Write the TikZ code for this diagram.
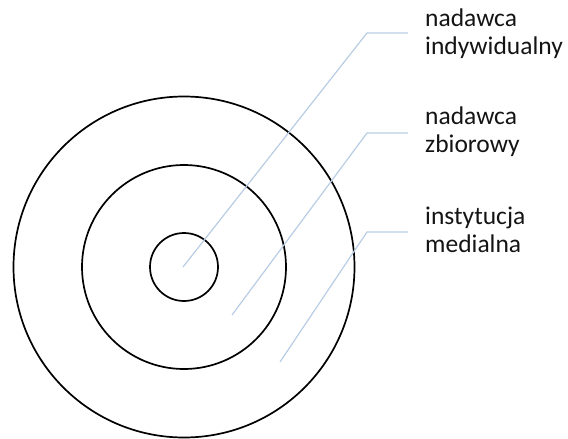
\documentclass[tikz,border=0pt]{standalone}
\usepackage{fontspec}
\setmainfont{Carlito}
\begin{document}
\begin{tikzpicture}[x=1pt,y=-1pt,
  ring/.style={draw=black,line width=1.7pt},
  leader/.style={draw={rgb,255:red,184;green,204;blue,228},line width=1.2pt},
  lbl/.style={anchor=north west,inner sep=0pt,align=left,font=\fontsize{25.5}{27.8}\selectfont,text={rgb,255:red,20;green,20;blue,20}}]
\useasboundingbox (0,0) rectangle (568,439);
\coordinate (c) at (184,267);
\draw[ring] (c) circle[radius=34];
\draw[ring] (c) circle[radius=102];
\draw[ring] (c) circle[radius=170.5];
\node[lbl] (t1) at (425,9) {nadawca\\indywidualny};
\node[lbl] (t2) at (425,107) {nadawca\\zbiorowy};
\node[lbl] (t3) at (425,207) {instytucja\\medialna};
\coordinate (s1) at (183,267);
\coordinate (k1) at (367,33);
\coordinate (e1) at (408,33);
\coordinate (s2) at (232,315);
\coordinate (k2) at (367,133);
\coordinate (e2) at (408,133);
\coordinate (s3) at (280,362);
\coordinate (k3) at (367,232);
\coordinate (e3) at (408,232);
\draw[leader] (s1) -- (k1) -- (e1);
\draw[leader] (s2) -- (k2) -- (e2);
\draw[leader] (s3) -- (k3) -- (e3);
\end{tikzpicture}
\end{document}
